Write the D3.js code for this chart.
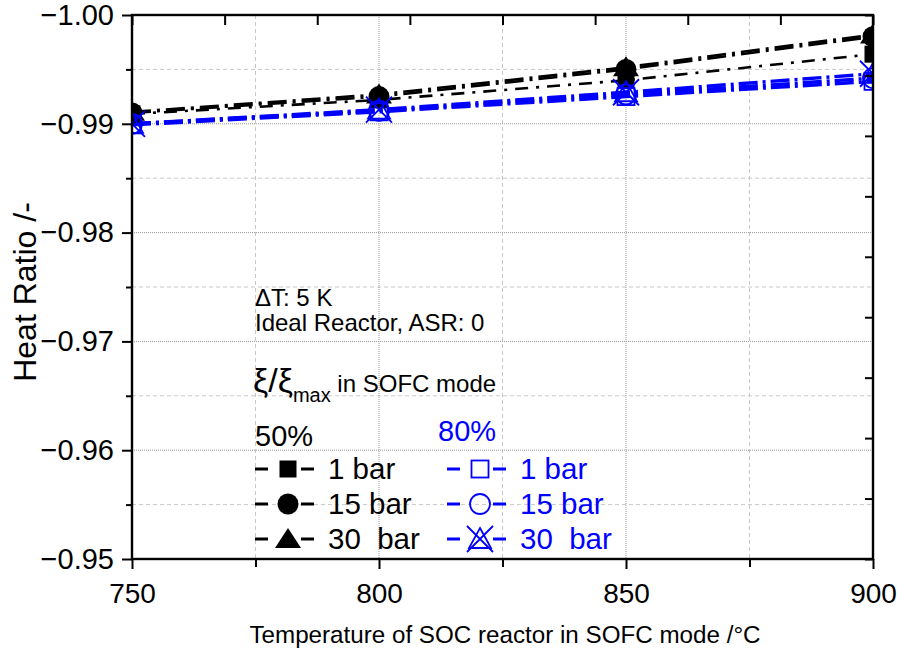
<!DOCTYPE html>
<html>
<head>
<meta charset="utf-8">
<script src="https://cdn.jsdelivr.net/npm/d3@7"></script>
<style>
  body { margin: 0; background: #fff; }
  text { font-family: "Liberation Sans", Arial, sans-serif; white-space: pre; }
</style>
</head>
<body>
<svg id="chart" width="897" height="657"></svg>
<script>
// temperatures of the SOC reactor in SOFC mode
const temps = [750, 800, 850, 900];

// heat ratio, 50% xi/xi_max (black, filled markers)
const black1bar = [-0.9909, -0.9922, -0.9940, -0.9964];
const black15bar = [-0.9910, -0.9925, -0.9950, -0.9980];
const black30bar = [-0.9911, -0.9927, -0.9952, -0.9982];

// heat ratio, 80% xi/xi_max (blue, open markers)
const blue1bar = [-0.9899, -0.9911, -0.9925, -0.9939];
const blue15bar = [-0.9900, -0.9912, -0.9927, -0.9942];
const blue30bar = [-0.9900, -0.9913, -0.9929, -0.9946];

const xTicks = [750, 800, 850, 900];
const yTicks = [-1.00, -0.99, -0.98, -0.97, -0.96, -0.95];
const legendLabels = ["1 bar", "15 bar", "30  bar"];

const series = [
    {values: black1bar, color: "#000", shape: "square", fill: true, dash: "13,8,3,8"},
    {values: black15bar, color: "#000", shape: "circle", fill: true, dash: "19,6,3,6"},
    {values: black30bar, color: "#000", shape: "triangle", fill: true, dash: "19,6,3,6"},
    {values: blue1bar, color: "#0000ff", shape: "square", fill: false, dash: "19,5,3,5"},
    {values: blue15bar, color: "#0000ff", shape: "circle", fill: false, dash: "19,5,3,5"},
    {values: blue30bar, color: "#0000ff", shape: "xtriangle", fill: false, dash: "19,5,3,5"}
];

const margin = {top: 15, right: 24, bottom: 98, left: 132};
const width = 897 - margin.left - margin.right,
    height = 657 - margin.top - margin.bottom;

const svg = d3.select("#chart");
const g = svg.append("g").attr("transform", `translate(${margin.left},${margin.top})`);

const x = d3.scaleLinear().domain([750, 900]).range([0, width]);
const y = d3.scaleLinear().domain([-1.00, -0.95]).range([0, height]);

// grid: minor dashed, major dotted
const xMinor = d3.range(775, 900, 50);
const yMinor = d3.range(-0.995, -0.95, 0.01);
g.append("g").selectAll("line").data(xMinor).join("line")
    .attr("x1", d => x(d)).attr("x2", d => x(d)).attr("y1", 0).attr("y2", height)
    .attr("stroke", "#c8c8c8").attr("stroke-dasharray", "4,3");
g.append("g").selectAll("line").data(yMinor).join("line")
    .attr("x1", 0).attr("x2", width).attr("y1", d => y(d)).attr("y2", d => y(d))
    .attr("stroke", "#c8c8c8").attr("stroke-dasharray", "4,3");
g.append("g").selectAll("line").data(xTicks.slice(1, -1)).join("line")
    .attr("x1", d => x(d)).attr("x2", d => x(d)).attr("y1", 0).attr("y2", height)
    .attr("stroke", "#999").attr("stroke-dasharray", "1,1");
g.append("g").selectAll("line").data(yTicks.slice(1, -1)).join("line")
    .attr("x1", 0).attr("x2", width).attr("y1", d => y(d)).attr("y2", d => y(d))
    .attr("stroke", "#999").attr("stroke-dasharray", "1,1");

// clip
svg.append("defs").append("clipPath").attr("id", "clip")
    .append("rect").attr("width", width).attr("height", height);
const plot = g.append("g").attr("clip-path", "url(#clip)");

const line = d3.line().x((d, i) => x(temps[i])).y(d => y(d));

series.forEach(s => {
    plot.append("path").datum(s.values)
        .attr("d", line)
        .attr("fill", "none")
        .attr("stroke", s.color)
        .attr("stroke-width", s.fill ? 2.6 : 3.4)
        .attr("stroke-dasharray", s.dash);
});

function drawMarker(sel, shape, color, filled) {
    const fill = filled ? color : "none";
    const sw = filled ? 0 : 1.8;
    if (shape === "square") {
        sel.append("rect").attr("x", -8.5).attr("y", -8.5).attr("width", 17).attr("height", 17)
            .attr("fill", fill).attr("stroke", color).attr("stroke-width", sw);
    } else if (shape === "circle") {
        sel.append("circle").attr("r", filled ? 10.5 : 10)
            .attr("fill", fill).attr("stroke", color).attr("stroke-width", sw);
    } else if (shape === "triangle") {
        sel.append("path").attr("d", "M0,-11L13,9L-13,9Z").attr("fill", fill);
    } else {
        sel.append("path").attr("d", "M0,-11L11,9L-11,9Z")
            .attr("fill", "none").attr("stroke", color).attr("stroke-width", sw);
        sel.append("path").attr("d", "M-13,-13L13,13M13,-13L-13,13")
            .attr("fill", "none").attr("stroke", color).attr("stroke-width", sw);
    }
}

series.forEach(s => {
    s.values.forEach((v, i) => {
        const m = plot.append("g").attr("transform", `translate(${x(temps[i])},${y(v)})`);
        drawMarker(m, s.shape, s.color, s.fill);
    });
});

// axes
const xAxis = d3.axisBottom(x).tickValues(xTicks).tickSize(10).tickPadding(14).tickFormat(d3.format("d"));
g.append("g").attr("transform", `translate(0,${height})`).call(xAxis)
    .call(a => a.selectAll("text").attr("font-size", "28px").attr("fill", "#000"));
g.append("g").attr("transform", `translate(0,${height})`)
    .call(d3.axisBottom(x).tickValues(xMinor).tickSize(8).tickFormat(""));

const yAxis = d3.axisLeft(y).tickValues(yTicks).tickSize(10).tickPadding(8).tickFormat(d3.format(".2f"));
g.append("g").call(yAxis)
    .call(a => a.selectAll("text").attr("font-size", "29px").attr("fill", "#000"));
g.append("g").call(d3.axisLeft(y).tickValues(yMinor).tickSize(6).tickFormat(""));

// mirrored top and right axes with their own divisions
const topScale = d3.scaleLinear().domain([0, 8]).range([0, width]);
g.append("g").call(d3.axisBottom(topScale).ticks(8).tickSize(10).tickFormat(""));
const rightScale = d3.scaleLinear().domain([0, 9]).range([0, height]);
g.append("g").attr("transform", `translate(${width},0)`)
    .call(d3.axisLeft(rightScale).ticks(9).tickSize(8).tickFormat(""));

g.selectAll(".domain").remove();
g.selectAll(".tick line").attr("stroke", "#000").attr("stroke-width", 2);
g.append("rect").attr("width", width).attr("height", height)
    .attr("fill", "none").attr("stroke", "#000").attr("stroke-width", 2.4);

// axis titles
svg.append("text")
    .attr("transform", `translate(36,292) rotate(-90)`)
    .attr("text-anchor", "middle").attr("font-size", "32px")
    .text("Heat Ratio /-");
svg.append("text")
    .attr("x", 505).attr("y", 643)
    .attr("text-anchor", "middle").attr("font-size", "24.2px")
    .text("Temperature of SOC reactor in SOFC mode /°C");

// annotations and legend
const ann = svg.append("g");
ann.append("text").attr("x", 255).attr("y", 306).attr("font-size", "24px").text("\u0394T: 5 K");
ann.append("text").attr("x", 255).attr("y", 331).attr("font-size", "24px").text("Ideal Reactor, ASR: 0");
const xi = ann.append("text").attr("x", 253).attr("y", 392).attr("font-size", "24px");
xi.append("tspan").attr("font-size", "34px").text("\u03be/\u03be");
xi.append("tspan").attr("dy", 10).attr("font-size", "20px").text("max");
xi.append("tspan").attr("dy", -10).text(" in SOFC mode");

ann.append("text").attr("x", 255).attr("y", 446).attr("font-size", "29px").text("50%");
ann.append("text").attr("x", 438).attr("y", 441).attr("font-size", "29px").attr("fill", "#0000ff").text("80%");

const legendRows = [469, 504, 539];
const legendCols = [{x0: 255, series: series.slice(0, 3)}, {x0: 447, series: series.slice(3)}];
legendCols.forEach(col => {
    col.series.forEach((s, i) => {
        const ly = legendRows[i];
        const row = ann.append("g").attr("transform", `translate(${col.x0},${ly})`);
        row.append("line").attr("x1", 0).attr("x2", 13).attr("stroke", s.color).attr("stroke-width", 3);
        row.append("line").attr("x1", 46).attr("x2", 59).attr("stroke", s.color).attr("stroke-width", 3);
        drawMarker(row.append("g").attr("transform", "translate(33,0)"), s.shape, s.color, s.fill);
        row.append("text").attr("x", 73).attr("y", 10).attr("font-size", "29.5px")
            .attr("fill", s.color).text(legendLabels[i]);
    });
});
</script>
</body>
</html>
